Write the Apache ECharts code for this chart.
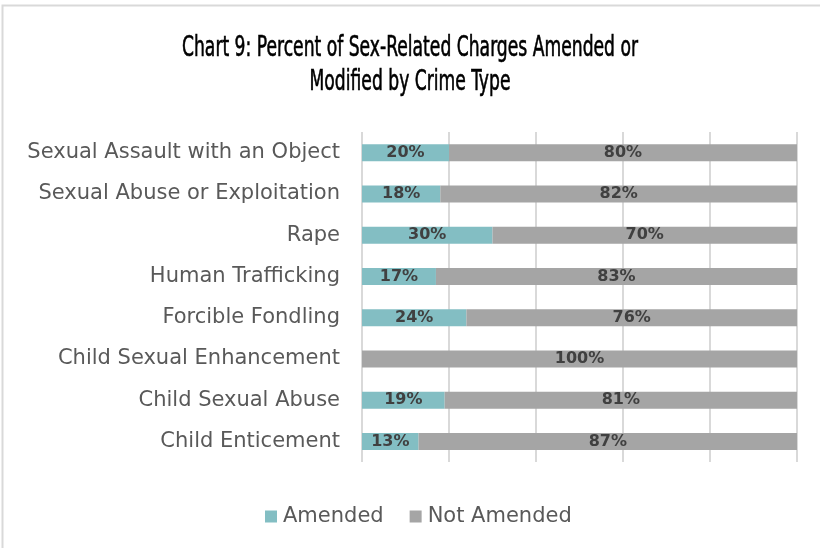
<!DOCTYPE html>
<html>
<head>
<meta charset="utf-8">
<script src="https://cdn.jsdelivr.net/npm/echarts@6/dist/echarts.min.js"></script>
<style>
  html, body { margin: 0; padding: 0; background: #fff; }
  #main { width: 820px; height: 548px; }
</style>
</head>
<body>
<div id="main"></div>
<script>
// categories bottom -> top (category axis starts at bottom)
let categories = [
  "Child Enticement",
  "Child Sexual Abuse",
  "Child Sexual Enhancement",
  "Forcible Fondling",
  "Human Trafficking",
  "Rape",
  "Sexual Abuse or Exploitation",
  "Sexual Assault with an Object",
];
let amended = [13, 19, 0, 24, 17, 30, 18, 20];
let notAmended = [87, 81, 100, 76, 83, 70, 82, 80];
let seriesNames = ["Amended", "Not Amended"];
let titleLines = [
  "Chart 9: Percent of Sex-Related Charges Amended or",
  "Modified by Crime Type",
];

// the original title uses a condensed face; squeeze a local font to the same width
let titleFont = "28px 'DejaVu Sans Condensed', 'DejaVu Sans', sans-serif";
let ctx = document.createElement("canvas").getContext("2d");
ctx.font = titleFont;
let titleScale = 456 / ctx.measureText(titleLines[0]).width;

let labelStyle = {
  show: true,
  position: "inside",
  color: "#404040",
  fontWeight: "bold",
  fontSize: 16,
  fontFamily: "DejaVu Sans",
  formatter: function (p) {
    return p.value > 0 ? p.value + "%" : "";
  },
};

function titleText(text, y) {
  return {
    type: "text",
    x: 410,
    y: y,
    scaleX: titleScale,
    style: {
      text: text,
      font: titleFont,
      fill: "#000",
      stroke: "#000",
      lineWidth: 0.6,
      textAlign: "center",
      textVerticalAlign: "middle",
    },
  };
}

let dom = document.getElementById("main");
let myChart = echarts.init(dom);
let option = {
  animation: false,
  graphic: [
    {
      type: "rect",
      shape: { x: 2.5, y: 5.5, width: 830, height: 560 },
      style: { fill: "none", stroke: "#d9d9d9", lineWidth: 2 },
      silent: true,
    },
    titleText(titleLines[0], 49),
    titleText(titleLines[1], 83),
  ],
  legend: {
    data: seriesNames,
    bottom: 16,
    left: 260,
    icon: "rect",
    itemWidth: 12,
    itemHeight: 12,
    itemGap: 26,
    textStyle: {
      fontFamily: "DejaVu Sans",
      fontSize: 21,
      color: "#595959",
      padding: [0, 0, 0, 1],
    },
  },
  grid: {
    left: 362,
    right: 23,
    top: 132,
    bottom: 86,
  },
  xAxis: {
    type: "value",
    min: 0,
    max: 100,
    interval: 20,
    axisLabel: { show: false },
    axisLine: { show: false },
    axisTick: { show: false },
    splitLine: { lineStyle: { color: "#d9d9d9", width: 2 } },
  },
  yAxis: {
    type: "category",
    data: categories,
    axisLine: { show: false },
    axisTick: { show: false },
    axisLabel: {
      fontFamily: "DejaVu Sans",
      fontSize: 21,
      color: "#595959",
      margin: 22,
    },
  },
  series: [
    {
      name: seriesNames[0],
      type: "bar",
      stack: "total",
      barWidth: 17,
      data: amended,
      itemStyle: { color: "#83bec3" },
      label: labelStyle,
    },
    {
      name: seriesNames[1],
      type: "bar",
      stack: "total",
      barWidth: 17,
      data: notAmended,
      itemStyle: { color: "#a5a5a5" },
      label: labelStyle,
    },
  ],
};
myChart.setOption(option);
</script>
</body>
</html>
